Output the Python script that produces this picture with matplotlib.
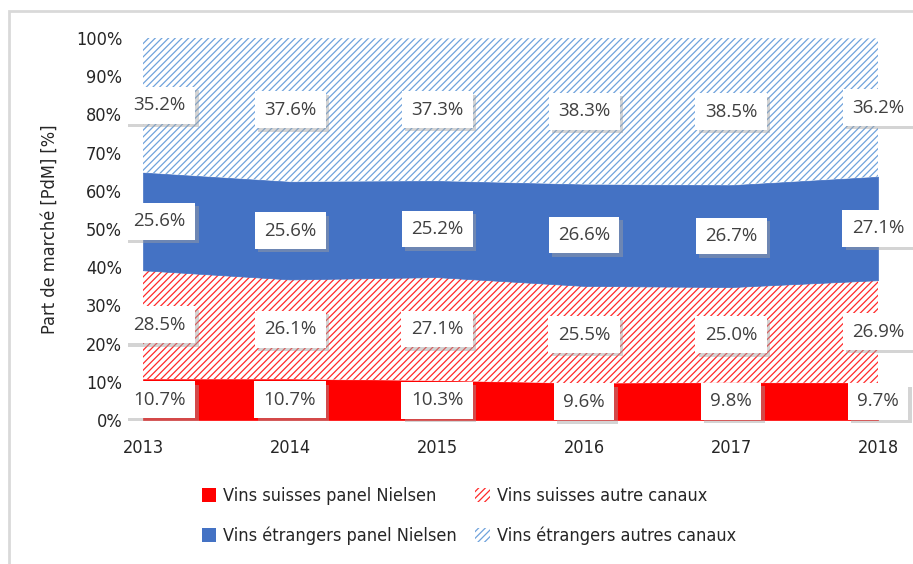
import matplotlib.pyplot as plt
import matplotlib.patheffects as pe
from matplotlib.patches import Rectangle, Patch
import numpy as np

years = [2013, 2014, 2015, 2016, 2017, 2018]
suisses_nielsen = [10.7, 10.7, 10.3, 9.6, 9.8, 9.7]
suisses_autres = [28.5, 26.1, 27.1, 25.5, 25.0, 26.9]
etrangers_nielsen = [25.6, 25.6, 25.2, 26.6, 26.7, 27.1]
etrangers_autres = [35.2, 37.6, 37.3, 38.3, 38.5, 36.2]

names = ["Vins suisses panel Nielsen", "Vins suisses autre canaux",
         "Vins étrangers panel Nielsen", "Vins étrangers autres canaux"]

plt.rcParams['font.family'] = ['DejaVu Sans']
plt.rcParams['font.stretch'] = 'condensed'
plt.rcParams['hatch.linewidth'] = 0.9

fig = plt.figure(figsize=(9.13, 5.64), dpi=100)
ax = fig.add_axes([143/913, 1-420/564, 735/913, 382/564])

# light frame around the chart
fig.patches.append(Rectangle((9/913, -0.1), 1.2, 1.1 - 11/564,
                             transform=fig.transFigure, fill=False,
                             edgecolor='#d9d9d9', linewidth=2, zorder=0))

series = [suisses_nielsen, suisses_autres, etrangers_nielsen, etrangers_autres]
styles = [dict(facecolor='#ff0000', edgecolor='#ff0000', hatch=None),
          dict(facecolor='white', edgecolor='#ff2a2a', hatch='/////'),
          dict(facecolor='#4472c4', edgecolor='#4472c4', hatch=None),
          dict(facecolor='white', edgecolor='#6fa3dc', hatch='/////')]

x = np.array(years)
base = np.zeros(len(years))
for vals, st in zip(series, styles):
    v = np.array(vals)
    top = base + v
    if st['hatch']:
        ax.fill_between(x, base, top, facecolor=st['facecolor'], edgecolor=st['edgecolor'],
                        hatch=st['hatch'], linewidth=0)
    else:
        ax.fill_between(x, base, top, facecolor=st['facecolor'], edgecolor=st['edgecolor'],
                        linewidth=0.5)
    for i, (xi, yi, val) in enumerate(zip(x, base + v / 2, v)):
        dx = 12 if i == 0 else 0
        t = ax.annotate(f"{val:.1f}%", (xi, yi), xytext=(dx, 0), textcoords='offset points',
                        ha='center', va='center', fontsize=13.5, color='#404040',
                        family=['Open Sans', 'DejaVu Sans'], fontstretch='normal',
                        bbox=dict(boxstyle='square,pad=0.5', facecolor='white', edgecolor='none'),
                        zorder=5)
        t.get_bbox_patch().set_path_effects([
            pe.SimplePatchShadow(offset=(2.5, -2.5), shadow_rgbFace='#a0a0a0', alpha=0.45),
            pe.Normal()])
    base = top

ax.set_xlim(2013, 2018)
ax.set_ylim(0, 100)
ax.set_xticks(years)
ax.set_yticks(range(0, 101, 10))
ax.set_yticklabels([f"{v}%" for v in range(0, 101, 10)])
ax.tick_params(length=0, labelsize=13, colors='#262626')
ax.tick_params(axis='x', pad=14)
ax.tick_params(axis='y', pad=15)
for s in ax.spines.values():
    s.set_visible(False)
ax.set_ylabel("Part de marché [PdM] [%]", fontsize=13, color='#262626', labelpad=12)

handles = [Patch(facecolor='#ff0000', edgecolor='none'),
           Patch(facecolor='white', edgecolor='#ff2a2a', hatch='/////', linewidth=0),
           Patch(facecolor='#4472c4', edgecolor='none'),
           Patch(facecolor='white', edgecolor='#6fa3dc', hatch='/////', linewidth=0)]
order = [0, 2, 1, 3]
fig.legend([handles[i] for i in order], [names[i] for i in order], ncol=2, loc='center',
           bbox_to_anchor=(469/913, 1-516/564),
           frameon=False, fontsize=13, handlelength=0.8, handleheight=0.8,
           handletextpad=0.4, columnspacing=1.0, labelspacing=1.2, labelcolor='#262626')

fig.savefig("out.png", dpi=100)
